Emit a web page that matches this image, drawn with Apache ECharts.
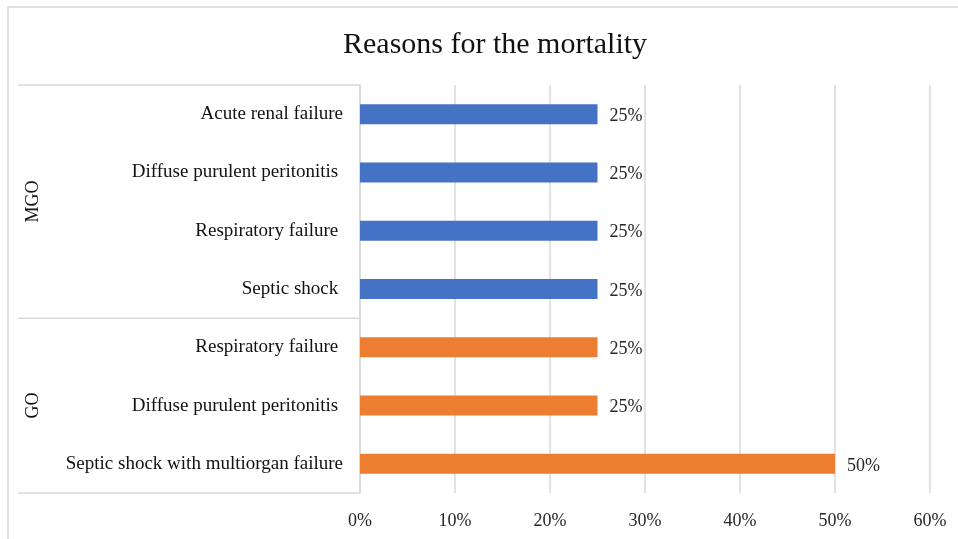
<!DOCTYPE html>
<html>
<head>
<meta charset="utf-8">
<script src="https://cdn.jsdelivr.net/npm/echarts@6/dist/echarts.min.js"></script>
<style>html,body{margin:0;padding:0;background:#fff}#c{width:958px;height:539px}</style>
</head>
<body>
<div id="c"></div>
<script>
const categories = ["Acute renal failure","Diffuse purulent peritonitis ","Respiratory failure ","Septic shock ","Respiratory failure ","Diffuse purulent peritonitis ","Septic shock with multiorgan failure"];
const groups = ["MGO","GO"];
const groupSizes = [4,3];
const mgoValues = [0.25,0.25,0.25,0.25,null,null,null];
const goValues = [null,null,null,null,0.25,0.25,0.50];
const xTicks = [0,0.1,0.2,0.3,0.4,0.5,0.6];

const FONT = '"Liberation Serif","Times New Roman",serif';
const chart = echarts.init(document.getElementById('c'), null, {renderer:'canvas'});
const pct = v => Math.round(v*100) + '%';
const lbl = {show:true, position:'right', distance:12, offset:[0,2], formatter:p=>pct(p.value), fontFamily:FONT, fontSize:18, color:'#262626'};
chart.setOption({
  animation:false,
  title:{text:'Reasons for the mortality', left:338, top:25, textStyle:{fontFamily:FONT, fontSize:30, fontWeight:'normal', color:'#111'}},
  grid:{left:360, right:28, top:85, bottom:46, containLabel:false},
  xAxis:{type:'value', min:xTicks[0], max:xTicks[xTicks.length-1], interval:0.1,
    axisLine:{show:false}, axisTick:{show:false},
    axisLabel:{formatter:v=>pct(v), fontFamily:FONT, fontSize:18, color:'#262626', margin:19},
    splitLine:{lineStyle:{color:'#d9d9d9', width:1.5}}},
  yAxis:{type:'category', inverse:true, data:categories,
    axisLine:{lineStyle:{color:'#d9d9d9', width:1.5}}, axisTick:{show:false},
    axisLabel:{fontFamily:FONT, fontSize:19, color:'#111', margin:17}},
  series:[
    {name:'MGO', type:'bar', stack:'s', data:mgoValues, barWidth:20, itemStyle:{color:'#4472C4'}, label:lbl},
    {name:'GO', type:'bar', stack:'s', data:goValues, barWidth:20, itemStyle:{color:'#ED7D31'}, label:lbl}
  ]
});

const y0 = chart.convertToPixel({yAxisIndex:0}, 0);
const y1 = chart.convertToPixel({yAxisIndex:0}, 1);
const band = y1 - y0;
const xAxis0 = chart.convertToPixel({xAxisIndex:0}, 0);
const leftX = 18;
const g = [];
g.push({type:'rect', shape:{x:8, y:7, width:1000, height:600}, style:{fill:null, stroke:'#d9d9d9', lineWidth:1.5}, silent:true});
let idx = 0;
const bounds = [y0 - band/2];
groups.forEach((name, gi) => {
  const start = idx, end = idx + groupSizes[gi] - 1;
  const ys = chart.convertToPixel({yAxisIndex:0}, start) - band/2;
  const ye = chart.convertToPixel({yAxisIndex:0}, end) + band/2;
  bounds.push(ye);
  g.push({type:'text', x:33, y:(ys+ye)/2, rotation:Math.PI/2,
    style:{text:name, font:'18px ' + FONT, fill:'#111', textAlign:'center', textVerticalAlign:'middle'}, silent:true});
  idx += groupSizes[gi];
});
bounds.forEach(b => {
  g.push({type:'line', shape:{x1:leftX, y1:b, x2:xAxis0, y2:b}, style:{stroke:'#d9d9d9', lineWidth:1.5}, silent:true});
});
chart.setOption({graphic:g});
</script>
</body>
</html>
